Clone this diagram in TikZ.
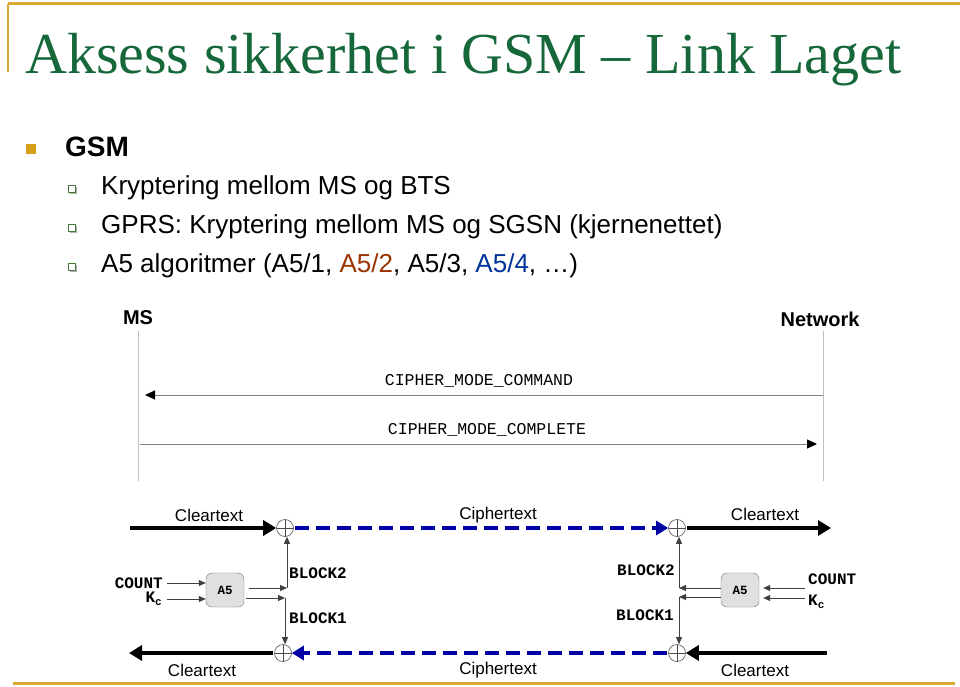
\documentclass[tikz,border=0pt]{standalone}
\usepackage{fontspec}
\setmainfont{Liberation Sans}
\newfontfamily\titlefont{Liberation Serif}
\newfontfamily\courierf{Liberation Mono}
\usetikzlibrary{arrows.meta}
\newcommand\setfs[1]{\fontsize{#1}{#1}\selectfont}
\definecolor{titlegreen}{RGB}{22,104,58}
\definecolor{goldsq}{RGB}{212,160,23}
\definecolor{goldline}{RGB}{214,170,52}
\definecolor{algred}{RGB}{153,51,0}
\definecolor{algblue}{RGB}{0,51,153}
\definecolor{cipherblue}{RGB}{0,0,165}
\definecolor{bulletgreen}{RGB}{70,120,60}
\begin{document}
\begin{tikzpicture}[x=1pt,y=-1pt,
  goldrule/.style={draw=goldline},
  subbullet/.style={draw=bulletgreen, fill=white, line width=0.8pt, minimum size=7, inner sep=0},
  bodytext/.style={anchor=base west, inner sep=0, font=\setfs{26}},
  actor/.style={inner sep=0, font=\bfseries\setfs{20}},
  lifeline/.style={draw=black!25, line width=0.8pt},
  msgarrow/.style={draw=black!50, line width=1pt, -{Triangle[length=10pt,width=9pt,color=black]}},
  msgtext/.style={inner sep=0, font=\courierf\setfs{16.5}},
  flowtext/.style={inner sep=0, font=\setfs{17}},
  thickarrow/.style={draw=black, line width=4pt, -{Triangle[length=13pt,width=15pt]}},
  bluedash/.style={draw=cipherblue, line width=4pt, dash pattern=on 14pt off 7pt, -{Triangle[length=12pt,width=14pt]}},
  xorc/.style={circle, draw=black!70, line width=0.6pt, minimum size=17, inner sep=0,
    path picture={\draw[black!70, line width=0.6pt]
      (path picture bounding box.north) -- (path picture bounding box.south)
      (path picture bounding box.west) -- (path picture bounding box.east);}},
  a5box/.style={draw=black!55, fill=black!12, rounded corners=6pt, minimum width=38, minimum height=34, inner sep=0, font=\courierf\bfseries\setfs{12.5}},
  monolabel/.style={inner sep=0, font=\courierf\bfseries\setfs{16}},
  thinarrow/.style={draw=black!75, line width=0.8pt, -{Triangle[length=7pt,width=6pt]}}
]
\useasboundingbox (0,0) rectangle (960,687);

% frame lines
\draw[goldrule, line width=3pt] (8,4) -- (960,4);
\draw[goldrule, line width=2pt] (8,4) -- (8,72);
\draw[goldrule, line width=3pt] (13,683) -- (955,683);

% title
\node[anchor=base west, inner sep=0, font=\titlefont\setfs{58}, text=titlegreen] (title) at (25,74) {Aksess sikkerhet i GSM – Link Laget};

% bullets
\node[fill=goldsq, minimum size=10, inner sep=0] (b0) at (31,149) {};
\node[anchor=base west, inner sep=0, font=\bfseries\setfs{28}] (gsm) at (65,157) {GSM};

\fill[black!30] (69.5,186.5) rectangle (76.5,193.5);
\node[subbullet] (b1) at (72,189) {};
\node[bodytext] (t1) at (101,194) {Kryptering mellom MS og BTS};
\fill[black!30] (69.5,225.5) rectangle (76.5,232.5);
\node[subbullet] (b2) at (72,228) {};
\node[bodytext] (t2) at (101,233) {GPRS: Kryptering mellom MS og SGSN (kjernenettet)};
\fill[black!30] (69.5,264.5) rectangle (76.5,271.5);
\node[subbullet] (b3) at (72,267) {};
\node[bodytext] (t3) at (101,272) {A5 algoritmer (A5/1, {\color{algred}A5/2}, A5/3, {\color{algblue}A5/4}, …)};

% sequence part
\node[actor] (ms) at (138,318) {MS};
\node[actor] (net) at (820,319) {Network};
\coordinate (msTop) at (138,331);
\coordinate (msBot) at (138,481);
\coordinate (netTop) at (823,331);
\coordinate (netBot) at (823,481);
\draw[lifeline] (msTop) -- (msBot);
\draw[lifeline] (netTop) -- (netBot);

\node[msgtext] (m1) at (479,381) {CIPHER\_MODE\_COMMAND};
\draw[msgarrow] (netTop |- 0,395) -- ([xshift=7pt]msTop |- 0,395);
\node[msgtext] (m2) at (487,430) {CIPHER\_MODE\_COMPLETE};
\draw[msgarrow] ([xshift=2pt]msTop |- 0,444) -- ([xshift=-6pt]netTop |- 0,444);

% XOR nodes
\node[xorc] (xorTL) at (285,528) {};
\node[xorc] (xorTR) at (677,528) {};
\node[xorc] (xorBL) at (283,653) {};
\node[xorc] (xorBR) at (677,653) {};

% main flows
\coordinate (clTLs) at (130,528);
\coordinate (clTRe) at (831,528);
\coordinate (clBLe) at (129,653);
\coordinate (clBRs) at (827,653);
\draw[thickarrow] (clTLs) -- (xorTL.west);
\draw[bluedash, shorten <=1pt] (xorTL.east) -- (xorTR.west);
\draw[thickarrow, shorten <=1.5pt] (xorTR.east) -- (clTRe);
\draw[thickarrow, shorten <=1pt] (xorBL.west) -- (clBLe);
\draw[bluedash, shorten <=1pt] (xorBR.west) -- (xorBL.east);
\draw[thickarrow] (clBRs) -- (xorBR.east);

\node[flowtext] (c1) at (209,515) {Cleartext};
\node[flowtext] (p1) at (498,515) {Ciphertext};
\node[flowtext] (c2) at (765,514) {Cleartext};
\node[flowtext] (c3) at (202,670) {Cleartext};
\node[flowtext] (p2) at (498,670) {Ciphertext};
\node[flowtext] (c4) at (755,670) {Cleartext};

% left A5
\node[a5box] (a5L) at (225,590) {A5};
\node[monolabel, anchor=east] (cntL) at (163,583) {COUNT};
\node[monolabel, anchor=east] (kcL) at (162,599) {K\raisebox{-0.35ex}{\setfs{11}c}};
\draw[thinarrow] ([xshift=4pt]cntL.east) -- (cntL.east -| a5L.west);
\draw[thinarrow] ([xshift=5pt]kcL.east) -- (kcL.east -| a5L.west);
\coordinate (j2L) at (287,588);
\coordinate (j1L) at (285,598);
\draw[thinarrow] ([xshift=5pt]a5L.east |- j2L) -- (j2L);
\draw[thinarrow] ([xshift=2pt]a5L.east |- j1L) -- (j1L);
\draw[thinarrow] (j2L) -- (j2L |- xorTL.south);
\draw[thinarrow] (j1L) -- (j1L |- xorBL.north);
\node[monolabel, anchor=west] (bl2L) at (289,573) {BLOCK2};
\node[monolabel, anchor=west] (bl1L) at (289,618) {BLOCK1};

% right A5
\node[a5box] (a5R) at (740,590) {A5};
\node[monolabel, anchor=west] (cntR) at (808,579) {COUNT};
\node[monolabel, anchor=west] (kcR) at (808,602) {K\raisebox{-0.35ex}{\setfs{11}c}};
\coordinate (inR2) at (805,588);
\coordinate (inR1) at (805,598);
\draw[thinarrow] (inR2) -- ([xshift=4pt]a5R.east |- inR2);
\draw[thinarrow] (inR1) -- ([xshift=4pt]a5R.east |- inR1);
\coordinate (j2R) at (679,588);
\coordinate (j1R) at (679,597);
\draw[thinarrow] (a5R.west |- j2R) -- (j2R);
\draw[thinarrow] (a5R.west |- j1R) -- (j1R);
\draw[thinarrow] (j2R) -- (j2R |- xorTR.south);
\draw[thinarrow] (j1R) -- (j1R |- xorBR.north);
\node[monolabel, anchor=east] (bl2R) at (675,570) {BLOCK2};
\node[monolabel, anchor=east] (bl1R) at (674,615) {BLOCK1};
\end{tikzpicture}
\end{document}
